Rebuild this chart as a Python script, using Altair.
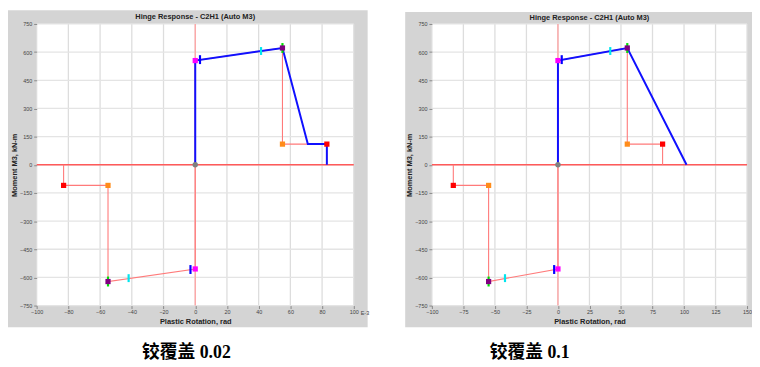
import altair as alt
import pandas as pd

TITLE = "Hinge Response - C2H1 (Auto M3)"
X_TITLE = "Plastic Rotation, rad"
Y_TITLE = "Moment M3, kN-m"
E3 = "E-3"
captions = ["铰覆盖 0.02", "铰覆盖 0.1"]

y_ticks = [-750, -600, -450, -300, -150, 0, 150, 300, 450, 600, 750]
x_ticks_a = [-100, -80, -60, -40, -20, 0, 20, 40, 60, 80, 100]
x_ticks_b = [-100, -75, -50, -25, 0, 25, 50, 75, 100, 125, 150]

# defined hinge backbone (thin red)
backbone_x = [-83, -83, -55, -55, 0, 0, 55, 55, 83, 83]
backbone_y = [0, -110, -110, -622, -555, 555, 622, 110, 110, 0]

# hinge response curves (blue)
resp_a_x = [0, 0, 55, 71, 83, 83]
resp_a_y = [0, 555, 622, 110, 110, 0]
resp_b_x = [0, 0, 55, 102]
resp_b_y = [0, 555, 622, 0]

# square markers
sq_kind = ["B", "B", "C", "C", "D", "D", "E", "E"]
sq_x = [0, 0, 55, -55, 55, -55, 83, -83]
sq_y = [555, -555, 622, -622, 110, -110, 110, -110]
sq_dom = ["B", "C", "D", "E"]
sq_col = ["#ff00ff", "#800080", "#ff8c1a", "#ff0000"]

# acceptance-criteria tick markers
tk_kind = ["CP", "CP", "IO", "IO", "LS", "LS"]
tk_x = [55, -55, 3, -3, 41.5, -42]
tk_y = [622, -622, 560, -558, 606, -604]
tk_dom = ["CP", "IO", "LS"]
tk_col = ["#00e000", "#0000ff", "#00e5ee"]
tk_len = [10, 8, 7]

origin_x = [0]
origin_y = [0]

FONT = "Liberation Sans"
CAP_FONT = "'Liberation Serif', 'Noto Sans CJK SC'"


def panel(idx, xticks, rx, ry, w, h, frame, title_y, cap_xy, e3_xy=None):
    xs = alt.Scale(domain=[xticks[0], xticks[-1]], nice=False, zero=False)
    ys = alt.Scale(domain=[-750, 750], nice=False, zero=False)
    xa = alt.Axis(values=xticks, title=X_TITLE, grid=False, domain=False, zindex=3,
                  labelFont=FONT, labelFontSize=5.5, labelColor="#444",
                  tickColor="#888", tickSize=3, labelPadding=1.5, labelFlush=False,
                  labelOverlap=False,
                  titleFont=FONT, titleFontSize=7.5, titleFontWeight="bold",
                  titleColor="#222", titlePadding=2.5)
    ya = alt.Axis(values=y_ticks, title=Y_TITLE, grid=False, domain=False, zindex=3,
                  labelFont=FONT, labelFontSize=5.5, labelColor="#444",
                  tickColor="#888", tickSize=3, labelPadding=2, labelFlush=False,
                  labelOverlap=False,
                  titleFont=FONT, titleFontSize=7.5, titleFontWeight="bold",
                  titleColor="#222", titlePadding=1.5)

    def X(f):
        return alt.X(f, type="quantitative", scale=xs, axis=xa)

    def Y(f):
        return alt.Y(f, type="quantitative", scale=ys, axis=ya)

    one = pd.DataFrame({"k": [0]})
    fx0, fx1, fy0, fy1 = frame
    frame_l = alt.Chart(one).mark_rect(color="#d4d4d4").encode(
        x=alt.value(fx0), x2=alt.value(fx1), y=alt.value(fy0), y2=alt.value(fy1))
    bg_l = alt.Chart(one).mark_rect(color="white").encode(
        x=alt.value(0), x2=alt.value(w), y=alt.value(0), y2=alt.value(h))
    vgrid = alt.Chart(pd.DataFrame({"x": xticks})).mark_rule(
        color="#dddddd", strokeWidth=1.3).encode(x=X("x"))
    hgrid = alt.Chart(pd.DataFrame({"y": y_ticks})).mark_rule(
        color="#e4e4e4", strokeWidth=1.3).encode(y=Y("y"))
    zero_v = alt.Chart(pd.DataFrame({"x": origin_x})).mark_rule(
        color="#ffa0a0", strokeWidth=1.3).encode(x=X("x"))
    zero_h = alt.Chart(pd.DataFrame({"y": origin_y})).mark_rule(
        color="#ff5a5a", strokeWidth=1.3).encode(y=Y("y"))

    bb = pd.DataFrame({"x": backbone_x, "y": backbone_y, "i": range(len(backbone_x))})
    bb_l = alt.Chart(bb).mark_line(color="#ff7a7a", strokeWidth=1.1).encode(
        x=X("x"), y=Y("y"), order="i:Q")
    rs = pd.DataFrame({"x": rx, "y": ry, "i": range(len(rx))})
    rs_l = alt.Chart(rs).mark_line(color="#1010ff", strokeWidth=2).encode(
        x=X("x"), y=Y("y"), order="i:Q")

    tk = pd.DataFrame({"x": tk_x, "y": tk_y, "kind": tk_kind})
    tk_l = alt.Chart(tk).mark_tick(orient="vertical", thickness=2.2, opacity=1).encode(
        x=X("x"), y=Y("y"),
        color=alt.Color("kind:N", scale=alt.Scale(domain=tk_dom, range=tk_col), legend=None),
        size=alt.Size("kind:N", scale=alt.Scale(domain=tk_dom, range=tk_len), legend=None))
    sq = pd.DataFrame({"x": sq_x, "y": sq_y, "kind": sq_kind})
    sq_l = alt.Chart(sq).mark_square(size=28, opacity=1).encode(
        x=X("x"), y=Y("y"),
        fill=alt.Fill("kind:N", scale=alt.Scale(domain=sq_dom, range=sq_col), legend=None))
    org = pd.DataFrame({"x": origin_x, "y": origin_y})
    org_l = alt.Chart(org).mark_circle(size=30, color="#808080", opacity=1).encode(
        x=X("x"), y=Y("y"))

    title_l = alt.Chart(one).mark_text(
        text=TITLE, font=FONT, fontSize=7.5, fontWeight="bold", color="#222",
        align="center", baseline="middle").encode(
        x=alt.value(w / 2), y=alt.value(title_y))
    cap_l = alt.Chart(one).mark_text(
        text=captions[idx], font=CAP_FONT, fontSize=18, fontWeight="bold", color="black",
        align="center", baseline="middle").encode(
        x=alt.value(cap_xy[0]), y=alt.value(cap_xy[1]))

    layers = [frame_l, bg_l, vgrid, hgrid, zero_v, zero_h, bb_l, rs_l, tk_l, sq_l, org_l,
              title_l, cap_l]
    if e3_xy is not None:
        e3_l = alt.Chart(one).mark_text(
            text=E3, font=FONT, fontSize=5.5, color="#444",
            align="left", baseline="middle").encode(
            x=alt.value(e3_xy[0]), y=alt.value(e3_xy[1]))
        layers.append(e3_l)
    return alt.layer(*layers).resolve_scale(
        color="independent", fill="independent", size="independent"
    ).properties(width=w, height=h)


left = panel(0, x_ticks_a, resp_a_x, resp_a_y, 321, 285,
             (-29, 335, -14, 307), -7, (151.5, 333), e3_xy=(328, 292.5))
right = panel(1, x_ticks_b, resp_b_x, resp_b_y, 319, 285,
              (-27, 324, -12, 307), -6, (99, 333.5))

chart = alt.hconcat(left, right, spacing=36).properties(
    padding=0, background="white").configure_view(stroke=None)

chart.save("out.html", embed_options={"renderer": "svg", "actions": False})
